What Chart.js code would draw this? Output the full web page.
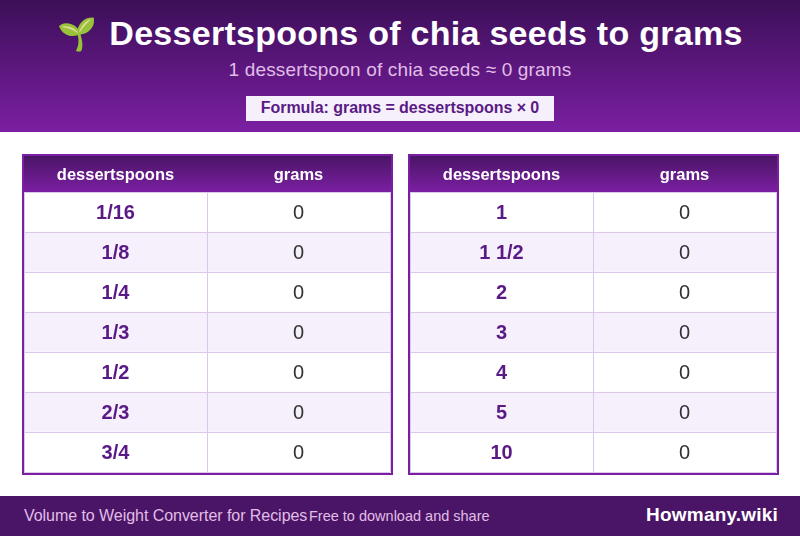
<!DOCTYPE html>
<html><head><meta charset="utf-8">
<script src="https://cdn.jsdelivr.net/npm/chart.js@4"></script>
<style>
html,body{margin:0;padding:0;background:#fff}
body{width:800px;height:536px;position:relative;overflow:hidden;font-family:"Liberation Sans",Arial,sans-serif}
.hdr{position:absolute;left:0;top:0;width:800px;height:132px;background:linear-gradient(180deg,#3c0f58 0%,#7b1fa2 100%)}
.t{position:absolute;white-space:nowrap}
#title{left:0;width:800px;top:13px;text-align:center;font-size:34px;letter-spacing:.27px;line-height:41px;font-weight:bold;color:#fff}
#title span{font-size:32px;margin-right:2px}
#sub{left:0;width:800px;top:59px;text-align:center;font-size:19px;letter-spacing:.16px;line-height:22px;color:#e1bee7}
#formula{left:246px;top:96px;width:308px;height:25px;background:#f5f0fb;text-align:center;font-size:16px;letter-spacing:-.05px;line-height:24px;font-weight:bold;color:#5a1a85}
.wrap{position:absolute;top:154px;width:367px;height:317px;border:2px solid #7b1fa2;background:linear-gradient(180deg,#4a1566 0,#7b1fa2 36px,#fff 36px)}
.wrap canvas{display:block}
.ftr{position:absolute;left:0;top:496px;width:800px;height:40px;background:#4a1566}
#fl{left:24px;top:10px;font-size:16px;letter-spacing:-.05px;line-height:20px;color:#e1bee7}
#fm{left:309px;top:10px;font-size:14.5px;line-height:20px;color:#e1bee7}
#fr{right:22px;top:7px;font-size:19px;letter-spacing:.2px;line-height:24px;font-weight:bold;color:#fff}
</style></head><body>
<div class="hdr">
<div class="t" id="title"><span>🌱</span> Dessertspoons of chia seeds to grams</div>
<div class="t" id="sub">1 dessertspoon of chia seeds ≈ 0 grams</div>
<div class="t" id="formula">Formula: grams = dessertspoons × 0</div>
</div>
<div class="wrap" style="left:22px"><canvas id="c1" width="367" height="317"></canvas></div>
<div class="wrap" style="left:408px"><canvas id="c2" width="367" height="317"></canvas></div>
<div class="ftr">
<div class="t" id="fl">Volume to Weight Converter for Recipes</div>
<div class="t" id="fm">Free to download and share</div>
<div class="t" id="fr">Howmany.wiki</div>
</div>
<script>
const columnLabels = ['dessertspoons', 'grams'];
const leftAmounts = ['1/16', '1/8', '1/4', '1/3', '1/2', '2/3', '3/4'];
const leftGrams = [0, 0, 0, 0, 0, 0, 0];
const rightAmounts = ['1', '1 1/2', '2', '3', '4', '5', '10'];
const rightGrams = [0, 0, 0, 0, 0, 0, 0];

const FONT = '"Liberation Sans", Arial, sans-serif';

const cellText = {
  id: 'cellText',
  afterDraw(chart, args, opts) {
    const { ctx, scales: { x, y } } = chart;
    ctx.save();
    ctx.textAlign = 'center';
    ctx.textBaseline = 'middle';
    opts.amounts.forEach((a, i) => {
      const py = y.getPixelForValue(i) + 1;
      ctx.font = 'bold 20px ' + FONT;
      ctx.fillStyle = '#5a1a85';
      ctx.fillText(a, x.getPixelForValue(0.5), py);
      ctx.font = '20px ' + FONT;
      ctx.fillStyle = '#333333';
      ctx.fillText(String(opts.grams[i]), x.getPixelForValue(1.5), py);
    });
    ctx.restore();
  }
};

function table(id, amounts, grams) {
  new Chart(document.getElementById(id), {
    type: 'bar',
    plugins: [cellText],
    data: {
      labels: amounts,
      datasets: [{
        data: amounts.map(() => [0, columnLabels.length]),
        backgroundColor: c => c.dataIndex % 2 ? '#f5f0fb' : '#ffffff',
        borderWidth: 0,
        categoryPercentage: 1,
        barPercentage: 1
      }]
    },
    options: {
      indexAxis: 'y',
      responsive: false,
      animation: false,
      devicePixelRatio: 1,
      layout: { padding: { left: 0, right: 1, top: 0, bottom: 1 } },
      plugins: { legend: { display: false }, tooltip: { enabled: false }, cellText: { amounts, grams } },
      scales: {
        x: {
          type: 'linear',
          position: 'top',
          min: 0,
          max: columnLabels.length,
          afterBuildTicks: s => { s.ticks = [0, 0.5, 1, 1.5, 2].map(v => ({ value: v })); },
          afterFit: s => { s.height = 36; s.paddingLeft = 0; s.paddingRight = 0; },
          border: { display: false },
          grid: { z: 1, drawTicks: false, color: c => (c.tick && Number.isInteger(c.tick.value)) ? '#dcc8ea' : 'rgba(0,0,0,0)' },
          ticks: {
            autoSkip: false, maxRotation: 0, padding: 7,
            color: '#ffffff',
            font: { family: FONT, size: 16.5, weight: 'bold' },
            callback: v => v === 0.5 ? columnLabels[0] : v === 1.5 ? columnLabels[1] : ''
          }
        },
        y: {
          type: 'category',
          afterFit: s => { s.width = 0; },
          border: { display: false },
          grid: { z: 1, drawTicks: false, color: '#dcc8ea' },
          ticks: { display: false }
        }
      }
    }
  });
}
table('c1', leftAmounts, leftGrams);
table('c2', rightAmounts, rightGrams);
</script>
</body></html>
